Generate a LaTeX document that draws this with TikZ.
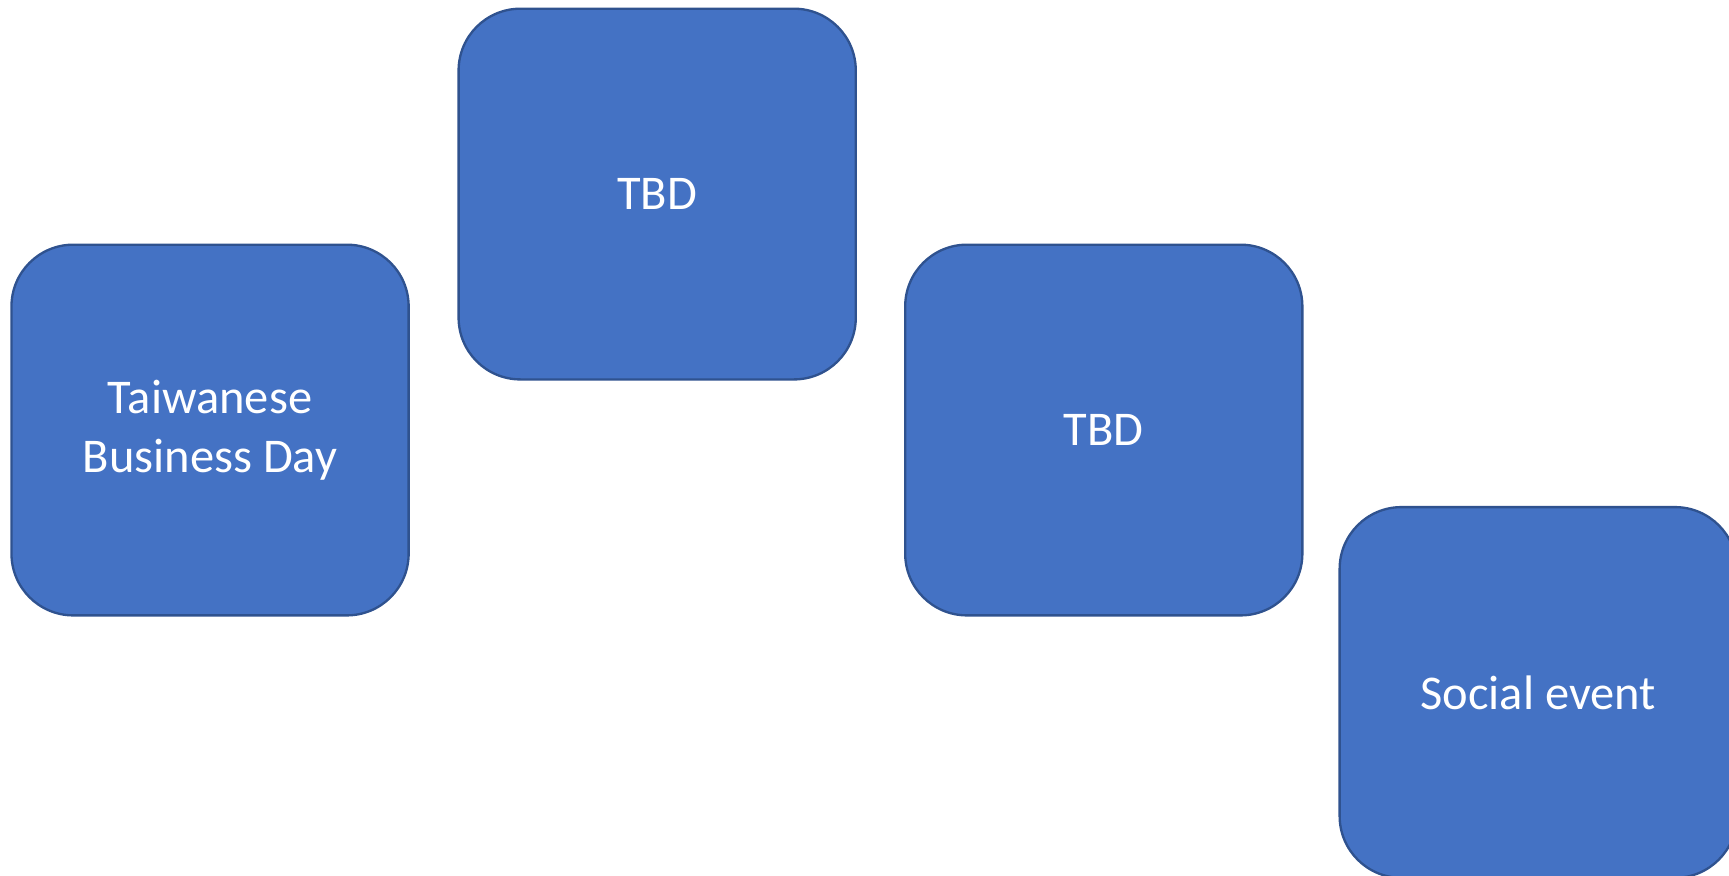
\documentclass[tikz,border=0pt]{standalone}
\usepackage{fontspec}
\setmainfont{Carlito}
\definecolor{boxfill}{HTML}{4472C4}
\definecolor{boxline}{HTML}{2F528F}
\begin{document}
\begin{tikzpicture}[x=0.01cm,y=-0.01cm,
  card/.style={draw=boxline, line width=0.6pt, fill=boxfill, rounded corners=0.56cm,
    minimum width=3.6cm, minimum height=3.36cm, inner sep=0pt,
    text=white, font=\fontsize{12.5}{15.1}\selectfont, align=center}]
\useasboundingbox (0,0) rectangle (1568,794.4);
\clip (0,0) rectangle (1568,794.4);
\node[card] (tbd) at (190.5,390) {Taiwanese\\Business Day};
\node[card] (tbda) at (596,176) {TBD};
\node[card] (tbdb) at (1001,390) {TBD};
\node[card] (social) at (1395,628) {Social event};
\end{tikzpicture}
\end{document}
